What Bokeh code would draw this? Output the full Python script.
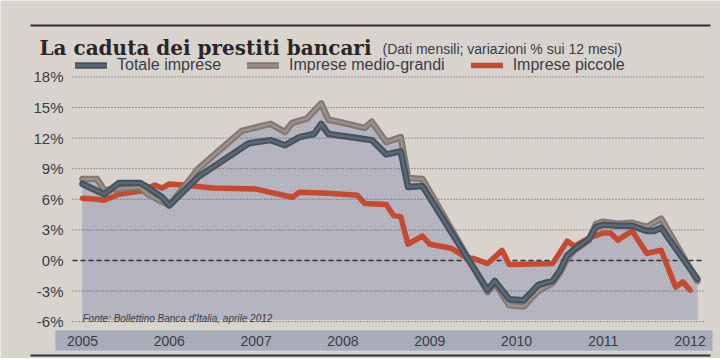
from bokeh.plotting import figure
from bokeh.models import Legend, LegendItem, Label
from bokeh.core.properties import value
from bokeh.embed import file_html
from bokeh.resources import INLINE

# ---------------- data ----------------
title_text = "La caduta dei prestiti bancari"
subtitle_text = "(Dati mensili; variazioni % sui 12 mesi)"
source_text = "Fonte: Bollettino Banca d'Italia, aprile 2012"
series_names = ["Totale imprese", "Imprese medio-grandi", "Imprese piccole"]

year_ticks = [2005, 2006, 2007, 2008, 2009, 2010, 2011, 2012]
year_labels = ["2005", "2006", "2007", "2008", "2009", "2010", "2011", "2012"]
y_ticks = [-6, -3, 0, 3, 6, 9, 12, 15, 18]
y_labels = ["-6%", "-3%", "0%", "3%", "6%", "9%", "12%", "15%", "18%"]

tot_months = ["2005-01", "2005-04", "2005-06", "2005-09", "2005-10", "2005-12", "2006-01",
              "2006-05", "2006-12", "2007-03", "2007-05", "2007-07", "2007-09", "2007-10",
              "2007-11", "2008-01", "2008-05", "2008-07", "2008-09", "2008-10", "2008-12",
              "2009-09", "2009-10", "2009-12", "2010-02", "2010-04", "2010-06", "2010-07",
              "2010-08", "2010-09", "2010-11", "2010-12", "2011-01", "2011-03", "2011-05",
              "2011-07", "2011-08", "2011-09", "2012-02"]
tot_values = [7.5, 6.5, 7.6, 7.6, 7.2, 6.2, 5.4,
              8.2, 11.5, 11.8, 11.3, 12.1, 12.4, 13.4,
              12.4, 12.2, 11.8, 10.4, 10.7, 7.2, 7.3,
              -2.9, -2.0, -3.8, -3.9, -2.4, -2.0, -1.0,
              0.5, 1.1, 2.1, 3.3, 3.5, 3.4, 3.4,
              2.9, 2.9, 3.2, -1.8]

mg_months = ["2005-01", "2005-03", "2005-04", "2005-06", "2005-09", "2005-10", "2006-01",
             "2006-05", "2006-11", "2007-03", "2007-05", "2007-06", "2007-08", "2007-10",
             "2007-11", "2008-01", "2008-04", "2008-05", "2008-07", "2008-09", "2008-10",
             "2008-12", "2009-09", "2009-10", "2009-12", "2010-02", "2010-04", "2010-06",
             "2010-07", "2010-08", "2010-09", "2010-11", "2010-12", "2011-01", "2011-03",
             "2011-05", "2011-07", "2011-08", "2011-09", "2012-02"]
mg_values = [8.0, 8.0, 6.9, 7.0, 7.2, 6.5, 5.4,
             9.0, 12.7, 13.4, 12.6, 13.5, 13.9, 15.4,
             13.8, 13.5, 13.0, 13.6, 11.6, 12.1, 8.1,
             8.0, -3.1, -2.2, -4.4, -4.5, -3.0, -2.2,
             -1.2, 0.2, 1.0, 2.0, 3.6, 3.8, 3.6,
             3.7, 3.3, 3.7, 4.1, -2.0]

pic_months = ["2005-01", "2005-03", "2005-04", "2005-06", "2005-09", "2005-11", "2005-12",
              "2006-01", "2006-03", "2006-07", "2007-01", "2007-06", "2007-07", "2007-11",
              "2008-03", "2008-04", "2008-07", "2008-08", "2008-09", "2008-10", "2008-12",
              "2009-01", "2009-04", "2009-06", "2009-07", "2009-09", "2009-11", "2009-12",
              "2010-06", "2010-08", "2010-09", "2010-11", "2011-01", "2011-02", "2011-03",
              "2011-05", "2011-07", "2011-09", "2011-11", "2011-12", "2012-01"]
pic_values = [6.1, 6.0, 5.9, 6.5, 6.8, 7.4, 7.1,
              7.5, 7.4, 7.1, 7.0, 6.2, 6.7, 6.6,
              6.4, 5.6, 5.5, 4.4, 4.3, 1.6, 2.4,
              1.6, 1.2, 0.3, 0.2, -0.3, 1.0, -0.4,
              -0.3, 1.9, 1.4, 2.2, 2.7, 2.7, 2.0,
              2.9, 0.7, 1.0, -2.6, -2.1, -2.9]


def to_year(s):
    y, m = s.split("-")
    return int(y) + (int(m) - 1) / 12.0


tot_x = [to_year(s) for s in tot_months]
mg_x = [to_year(s) for s in mg_months]
pic_x = [to_year(s) for s in pic_months]

# ---------------- layout / styling ----------------
PAPER = "#d8d4cd"
FILL = "#c2c0c5"
HATCH = "#aaadbd"
BAND = "#b3b7c1"
TEXT = "#3a3c47"
BLUE_OUT, BLUE_IN = "#45525e", "#5a6a77"
GREY_OUT, GREY_IN = "#837772", "#9c908a"
RED = "#c64a30"
FONT = "Liberation Sans"

W, H = 720, 358
PX_YEAR = 86.8          # pixels per year
PX_X0 = 82              # pixel column of Jan 2005
PX_PCT = 10.2           # pixels per percentage point
PX_Y0 = 260             # pixel row of 0 %


def xd(px):
    """page pixel column -> data x"""
    return 2005 + (px - PX_X0) / PX_YEAR


def yd(py):
    """page pixel row (from top) -> data y"""
    return (PX_Y0 - py) / PX_PCT


p = figure(width=W, height=H, output_backend="svg", toolbar_location=None, title=None,
           x_range=(xd(0), xd(W)), y_range=(yd(H), yd(0)),
           min_border_left=0, min_border_right=0, min_border_top=0, min_border_bottom=0,
           background_fill_color=PAPER, border_fill_color=PAPER,
           outline_line_color=None, x_axis_type=None, y_axis_type=None)
p.xgrid.visible = False
p.ygrid.visible = False

GRID_L, GRID_R = xd(72), xd(703)

# shaded area under the curves
for xs, ys in ((mg_x, mg_values), (tot_x, tot_values), (pic_x, pic_values)):
    p.varea(x=xs, y1=-5.8, y2=ys, fill_color=FILL, hatch_pattern="/",
            hatch_color=HATCH, hatch_scale=4, hatch_weight=1.2)

# horizontal grid (dotted) and zero line (dashed)
grid_ticks = [t for t in y_ticks if t != 0]
p.segment(x0=[GRID_L] * len(grid_ticks), x1=[GRID_R] * len(grid_ticks),
          y0=grid_ticks, y1=grid_ticks, line_color="#55555f", line_width=1,
          line_dash="1 2")
p.segment(x0=[GRID_L], x1=[GRID_R], y0=[0], y1=[0], line_color="#333333",
          line_width=1.5, line_dash="5 3")

# y tick labels
p.text(x=[xd(63)] * len(y_ticks), y=y_ticks, text=y_labels, text_align="right",
       text_baseline="middle", text_font=value(FONT), text_font_size="15px",
       text_color=TEXT)

# x axis band and year labels
p.quad(left=[xd(55)], right=[xd(712)], top=[yd(330)], bottom=[yd(350)],
       fill_color=BAND, line_color=None, hatch_pattern="/", hatch_color="#a0a5b5",
       hatch_scale=4, hatch_weight=1.2)
p.text(x=year_ticks, y=[yd(340)] * len(year_ticks), text=year_labels,
       text_align="center", text_baseline="middle", text_font=value(FONT),
       text_font_size="14px", text_color=TEXT)

# top / bottom rules
p.quad(left=[xd(30), xd(30)], right=[xd(710), xd(710)], top=[yd(24), yd(354)],
       bottom=[yd(26), yd(356)], fill_color="#2e2e2e", line_color=None)

# lines
r_pic = p.line(pic_x, pic_values, line_color=RED, line_width=5.5,
               line_join="round", line_cap="round")
r_mg_o = p.line(mg_x, mg_values, line_color=GREY_OUT, line_width=6.5,
                line_join="round", line_cap="round")
r_mg_i = p.line(mg_x, mg_values, line_color=GREY_IN, line_width=2.5,
                line_join="round", line_cap="round")
r_tot_o = p.line(tot_x, tot_values, line_color=BLUE_OUT, line_width=6.5,
                 line_join="round", line_cap="round")
r_tot_i = p.line(tot_x, tot_values, line_color=BLUE_IN, line_width=2.5,
                 line_join="round", line_cap="round")

legend = Legend(items=[
    LegendItem(label=series_names[0], renderers=[r_tot_o, r_tot_i]),
    LegendItem(label=series_names[1], renderers=[r_mg_o, r_mg_i]),
    LegendItem(label=series_names[2], renderers=[r_pic]),
], orientation="horizontal", location=(75, H - 74), glyph_width=32, glyph_height=18,
    label_height=18, label_standoff=10, spacing=26, padding=0, margin=0,
    border_line_color=None, background_fill_alpha=0,
    label_text_font=FONT, label_text_font_size="16px", label_text_color=TEXT)
p.add_layout(legend)

# texts
p.add_layout(Label(x=39, y=H - 47, x_units="screen", y_units="screen", text=title_text,
                   text_font="DejaVu Serif", text_font_style="bold", text_font_size="20px",
                   text_color="#2b2626", text_baseline="alphabetic"))
p.add_layout(Label(x=382, y=H - 48, x_units="screen", y_units="screen", text=subtitle_text,
                   text_font=FONT, text_font_size="14px", text_color=TEXT,
                   text_baseline="alphabetic"))
p.add_layout(Label(x=82, y=H - 318, x_units="screen", y_units="screen", text=source_text,
                   text_font=FONT, text_font_style="italic", text_font_size="10px",
                   text_color=TEXT, text_baseline="alphabetic"))

open("out.html", "w").write(file_html(p, INLINE))
